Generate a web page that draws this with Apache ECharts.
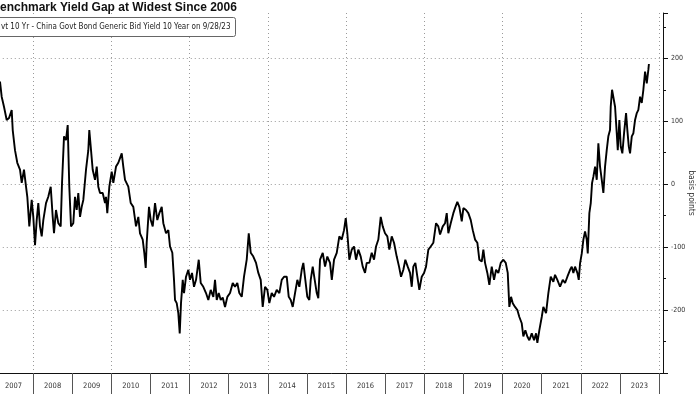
<!DOCTYPE html>
<html><head><meta charset="utf-8">
<script src="https://cdn.jsdelivr.net/npm/echarts@6/dist/echarts.min.js"></script>
<style>html,body{margin:0;padding:0;background:#fff;overflow:hidden}#c{width:700px;height:394px;}</style>
</head><body><div id="c"></div>
<script>
// ---- data ----
const titleText = 'enchmark Yield Gap at Widest Since 2006';
const legendText = 'vt 10 Yr - China Govt Bond Generic Bid Yield 10 Year on 9/28/23';
const unitName = 'basis points';
const yearLabels = ['2007','2008','2009','2010','2011','2012','2013','2014','2015','2016','2017','2018','2019','2020','2021','2022','2023'];
// observation dates as fractional years
const years = [
2007.156,2007.199,2007.258,2007.327,2007.386,2007.455,2007.481,2007.539,2007.598,2007.667,2007.711,2007.769,2007.821,2007.854,2007.905,2007.966,
2008.007,2008.051,2008.094,2008.135,2008.178,2008.222,2008.263,2008.332,2008.390,2008.452,2008.503,2008.536,2008.587,2008.646,2008.707,2008.741,2008.792,2008.843,2008.886,2008.927,2008.971,
2009.029,2009.073,2009.116,2009.157,2009.201,2009.244,2009.285,2009.354,2009.413,2009.438,2009.474,2009.525,2009.584,2009.628,2009.668,2009.712,2009.781,2009.840,2009.865,2009.898,2009.950,
2010.011,2010.052,2010.121,2010.180,2010.205,2010.267,2010.307,2010.351,2010.435,2010.497,2010.563,2010.632,2010.691,2010.734,2010.803,2010.844,2010.880,2010.905,2010.964,
2011.008,2011.059,2011.118,2011.176,2011.228,2011.289,2011.330,2011.399,2011.458,2011.501,2011.560,2011.603,2011.629,2011.672,2011.713,2011.749,2011.782,2011.826,2011.859,2011.910,2011.969,
2012.012,2012.063,2012.114,2012.166,2012.235,2012.286,2012.352,2012.421,2012.480,2012.541,2012.608,2012.651,2012.695,2012.746,2012.797,2012.848,2012.907,2012.966,
2013.035,2013.104,2013.162,2013.221,2013.272,2013.334,2013.392,2013.461,2013.513,2013.564,2013.630,2013.699,2013.758,2013.819,2013.870,2013.929,2013.988,
2014.039,2014.100,2014.159,2014.228,2014.295,2014.356,2014.415,2014.484,2014.535,2014.586,2014.637,2014.696,2014.755,2014.806,2014.867,2014.908,2014.959,
2015.010,2015.061,2015.097,2015.148,2015.199,2015.251,2015.291,2015.335,2015.404,2015.463,2015.521,2015.590,2015.636,2015.693,2015.762,2015.828,2015.889,2015.948,2015.992,
2016.033,2016.084,2016.145,2016.204,2016.255,2016.314,2016.375,2016.426,2016.485,2016.528,2016.595,2016.656,2016.715,2016.766,2016.825,2016.886,2016.937,2016.996,
2017.055,2017.106,2017.167,2017.226,2017.295,2017.354,2017.405,2017.464,2017.515,2017.576,2017.635,2017.679,2017.719,2017.771,2017.822,2017.873,2017.934,2017.993,
2018.044,2018.103,2018.164,2018.231,2018.300,2018.358,2018.402,2018.471,2018.530,2018.573,2018.614,2018.675,2018.742,2018.785,2018.844,2018.895,2018.957,2018.998,
2019.066,2019.125,2019.187,2019.238,2019.297,2019.355,2019.406,2019.468,2019.509,2019.552,2019.611,2019.662,2019.723,2019.782,2019.833,2019.892,2019.953,
2020.020,2020.081,2020.132,2020.173,2020.217,2020.260,2020.319,2020.378,2020.429,2020.490,2020.531,2020.582,2020.633,2020.684,2020.746,2020.805,2020.856,2020.889,2020.940,
2021.001,2021.042,2021.111,2021.170,2021.231,2021.298,2021.341,2021.400,2021.469,2021.538,2021.597,2021.656,2021.725,2021.768,2021.809,2021.852,2021.911,2021.947,2021.980,
2022.024,2022.065,2022.108,2022.151,2022.177,2022.218,2022.254,2022.287,2022.321,2022.364,2022.407,2022.448,2022.491,2022.535,2022.576,2022.619,2022.662,2022.703,2022.746,2022.764,2022.798,2022.831,2022.875,2022.918,2022.944,2022.985,
2023.020,2023.061,2023.105,2023.156,2023.189,2023.225,2023.258,2023.302,2023.343,2023.386,2023.430,2023.470,2023.514,2023.557,2023.598,2023.642,2023.685,2023.726,2023.740
];
// US 10Y minus China 10Y, basis points
const spread = [
163,139,123,102,105,118,86,54,34,23,2,23,-4,-20,-67,-25,
-52,-97,-57,-30,-67,-83,-57,-30,-20,-4,-52,-78,-41,-62,-67,2,76,70,94,-4,-67,
-62,-20,-41,-14,-52,-36,-25,23,54,86,60,23,7,28,-4,-14,-14,-30,-20,-46,-4,
20,2,28,34,36,49,28,7,-4,-30,-36,-67,-52,-78,-88,-109,-133,-93,-36,
-57,-67,-30,-57,-46,-36,-62,-78,-73,-99,-109,-152,-184,-189,-205,-237,-189,-152,-173,-147,-136,
-152,-141,-163,-152,-120,-157,-163,-173,-184,-168,-179,-152,-184,-173,-184,-180,-195,-179,
-173,-157,-163,-157,-173,-179,-147,-120,-78,-109,-115,-125,-141,-152,-195,-163,-168,
-189,-173,-179,-168,-173,-152,-147,-147,-179,-184,-195,-173,-152,-163,-136,-125,-152,
-179,-184,-152,-131,-152,-173,-181,-120,-109,-131,-115,-125,-152,-120,-109,-83,-88,-73,-54,
-78,-120,-104,-99,-120,-104,-115,-131,-141,-125,-125,-109,-120,-99,-88,-52,-67,-78,
-83,-104,-83,-93,-115,-131,-147,-136,-120,-131,-141,-163,-131,-125,-147,-168,-147,-141,
-131,-104,-99,-93,-62,-67,-80,-67,-62,-46,-78,-62,-46,-38,-28,-36,-59,-38,
-41,-46,-57,-73,-88,-93,-120,-123,-104,-125,-141,-160,-131,-152,-136,-141,-125,
-120,-125,-141,-195,-179,-189,-195,-200,-211,-221,-242,-232,-242,-248,-237,-248,-237,-252,-232,
-211,-195,-205,-173,-147,-155,-144,-152,-163,-152,-157,-147,-136,-131,-141,-131,-141,-152,-126,
-110,-88,-75,-88,-110,-46,-30,2,12,28,7,65,28,7,-14,28,54,76,86,123,150,150,123,81,54,102,
60,49,81,113,86,60,49,76,81,102,113,118,139,129,150,179,160,182,191
];

const COND = '"DejaVu Sans Condensed", "DejaVu Sans", sans-serif';
const chart = echarts.init(document.getElementById('c'), null, {renderer: 'canvas'});

const gTop = 13, gBottom = 21;
const pxPerYear = 39.13;
const firstYearX = -6.1;          // where Jan 2007 sits
const axisRightX = 663;           // right axis line
const lastBandX = 659;            // end of the 2023 band

chart.setOption({
  animation: false,
  backgroundColor: '#ffffff',
  grid: [
    {left: firstYearX - pxPerYear, right: 700 - axisRightX, top: gTop, bottom: gBottom, containLabel: false, outerBoundsMode: 'none'},
    {left: firstYearX, right: 700 - lastBandX, top: gTop, bottom: gBottom, containLabel: false, outerBoundsMode: 'none'}
  ],
  xAxis: [
    {
      type: 'value', gridIndex: 0, min: 2006, max: 2024.1, interval: 2,
      axisLine: {show: true, onZero: false, lineStyle: {color: '#111', width: 1}},
      axisTick: {show: false}, axisLabel: {show: false},
      splitLine: {show: true, showMinLine: false, showMaxLine: false, lineStyle: {color: '#9a9a9a', width: 1, type: [1, 3]}}
    },
    {
      type: 'category', gridIndex: 1, data: yearLabels, boundaryGap: true, position: 'bottom',
      axisLine: {show: false, onZero: false},
      axisTick: {show: true, length: 21, lineStyle: {color: '#555', width: 1}},
      axisLabel: {show: true, margin: 9, fontSize: 7.5, color: '#333', fontFamily: COND},
      splitLine: {show: false}
    }
  ],
  yAxis: [
    {
      type: 'value', gridIndex: 0, position: 'right', min: -300, max: 272, interval: 100,
      axisLine: {show: true, onZero: false, lineStyle: {color: '#111', width: 1}},
      axisTick: {show: true, length: 5, lineStyle: {color: '#111'}},
      minorTick: {show: true, splitNumber: 2, length: 3, lineStyle: {color: '#111'}},
      axisLabel: {show: true, margin: 8, fontSize: 7, color: '#333', fontFamily: COND, showMaxLabel: false, showMinLabel: false},
      splitLine: {show: true, showMinLine: false, showMaxLine: false, lineStyle: {color: '#9a9a9a', width: 1, type: [1, 3]}},
      name: unitName, nameLocation: 'middle', nameRotate: -90, nameGap: 24, nameMoveOverlap: false,
      nameTextStyle: {fontSize: 8.5, color: '#333', fontFamily: COND}
    },
    {type: 'value', gridIndex: 1, show: false, min: -300, max: 272}
  ],
  series: [{
    type: 'line', xAxisIndex: 0, yAxisIndex: 0,
    data: years.map((t, i) => [t, spread[i]]),
    showSymbol: false, symbol: 'none', smooth: false,
    lineStyle: {color: '#000', width: 1.9}
  }],
  graphic: [
    {type: 'text', left: 0, top: 2, z: 100,
     style: {text: titleText, font: 'bold 12px "Liberation Sans", Arial, sans-serif', fill: '#111'}},
    {type: 'rect', z: 99, shape: {x: -10, y: 17.5, width: 245.5, height: 19, r: 2},
     style: {fill: '#fff', stroke: '#666', lineWidth: 1}},
    {type: 'text', left: 1, top: 22.5, z: 100,
     style: {text: legendText, font: '8px ' + COND, fill: '#222'}}
  ]
});
</script>
</body></html>
